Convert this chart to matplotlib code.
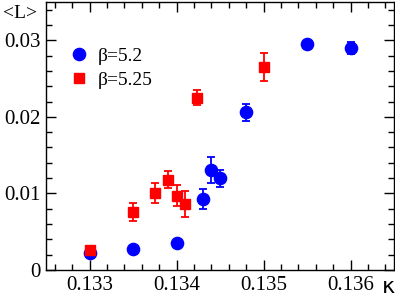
import matplotlib
matplotlib.use("Agg")
import matplotlib.pyplot as plt
from matplotlib.ticker import MultipleLocator, FuncFormatter
from matplotlib.lines import Line2D

plt.rcParams['font.family'] = ['Liberation Serif', 'DejaVu Serif']
plt.rcParams['mathtext.fontset'] = 'stix'

# beta = 5.2
kappa_52 = [0.1330, 0.1335, 0.1340, 0.1343, 0.1344, 0.1345, 0.1348, 0.1355, 0.1360]
L_52 = [0.0022, 0.0027, 0.0035, 0.0093, 0.0131, 0.0120, 0.0206, 0.0295, 0.0290]
err_52 = [0.0002, 0.0003, 0.0003, 0.0013, 0.0017, 0.0011, 0.0011, 0.0004, 0.0008]

# beta = 5.25
kappa_525 = [0.1330, 0.1335, 0.13375, 0.1339, 0.1340, 0.1341, 0.13423, 0.1350]
L_525 = [0.0026, 0.0076, 0.0100, 0.0118, 0.0097, 0.0086, 0.0225, 0.0265]
err_525 = [0.0003, 0.0012, 0.0013, 0.0011, 0.0014, 0.0017, 0.0010, 0.0018]

labels = ['β=5.2', 'β=5.25']

fig = plt.figure(figsize=(3.95, 2.97), dpi=100)
ax = fig.add_axes([46/395, 1-270/297, (394-46)/395, (270-2)/297])

ax.errorbar(kappa_52, L_52, yerr=err_52, fmt='o', color='#0000ff', ms=8.8,
            capsize=3, elinewidth=1.3, capthick=1.3, zorder=3)
ax.errorbar(kappa_525, L_525, yerr=err_525, fmt='s', color='#ff0000', ms=7.2,
            capsize=3, elinewidth=1.3, capthick=1.3, zorder=4)

ax.set_xlim(0.1325, 0.1365)
ax.set_ylim(0, 0.035)
ax.xaxis.set_major_locator(MultipleLocator(0.001))
ax.xaxis.set_minor_locator(MultipleLocator(0.0002))
ax.yaxis.set_major_locator(MultipleLocator(0.01))
ax.yaxis.set_minor_locator(MultipleLocator(0.002))

def yfmt(v, pos):
    if abs(v) < 1e-12:
        return '0'
    return f'{v:.2f}'
def xfmt(v, pos):
    return f'{v:.3f}'
ax.yaxis.set_major_formatter(FuncFormatter(yfmt))
ax.xaxis.set_major_formatter(FuncFormatter(xfmt))

ax.tick_params(which='both', direction='in', top=True, right=True, labelsize=15, width=1)
ax.tick_params(which='major', length=7)
ax.tick_params(which='minor', length=4)
ax.tick_params(axis='x', pad=4)
ax.tick_params(axis='y', pad=4)
for s in ax.spines.values():
    s.set_linewidth(1)

handles = [Line2D([], [], ls='none', marker='o', color='#0000ff', ms=8.8),
           Line2D([], [], ls='none', marker='s', color='#ff0000', ms=7.2)]
leg = ax.legend(handles, labels, loc='upper left', bbox_to_anchor=(0.068, 0.83),
                frameon=False, fontsize=14, handlelength=1.0, handletextpad=0.45,
                labelspacing=0.3, borderaxespad=0, borderpad=0)

fig.text(3/395, 1-14/297, '<L>', fontsize=14, ha='left', va='center')
fig.text(388/395, 1-287/297, 'κ', fontsize=16, ha='center', va='center',
         family='DejaVu Sans')

fig.savefig('out.png', dpi=100)
